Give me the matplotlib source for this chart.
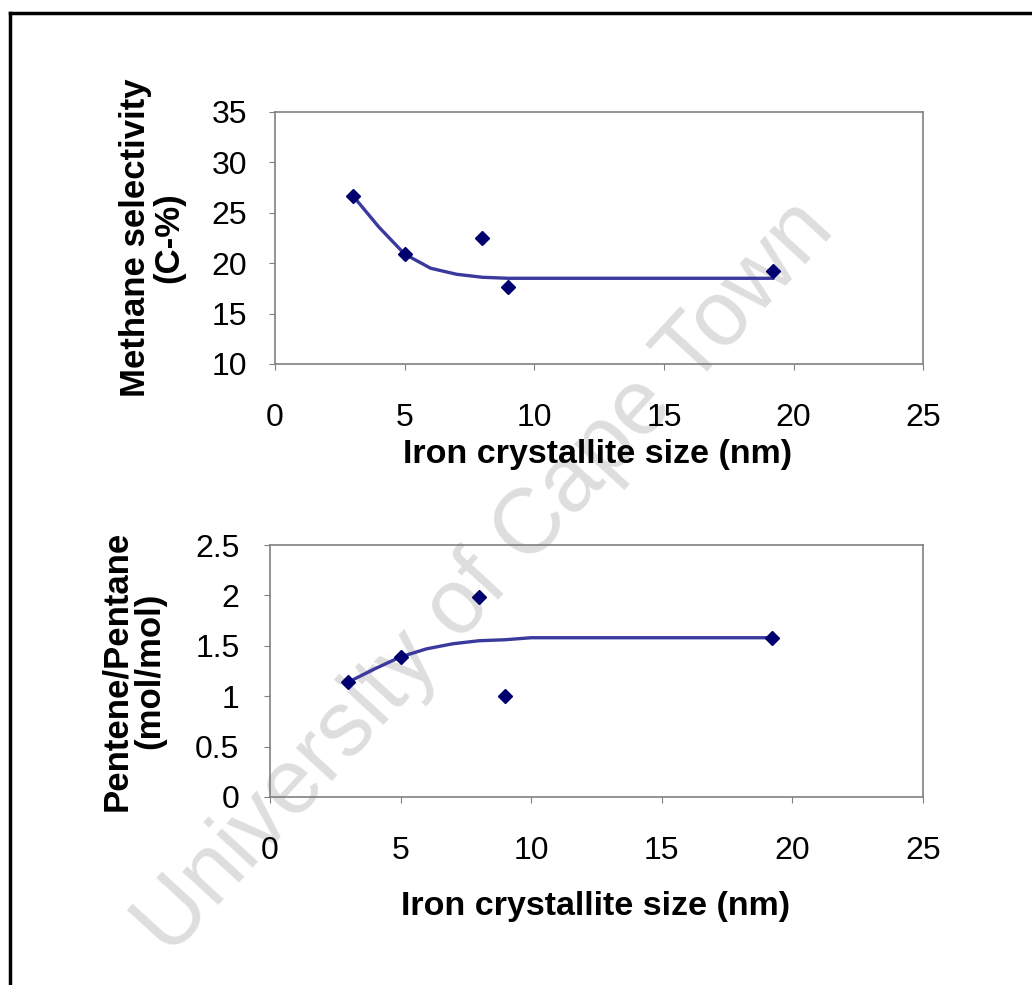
import matplotlib.pyplot as plt
from matplotlib.lines import Line2D

plt.rcParams['font.family'] = ['Liberation Sans', 'DejaVu Sans']

# measured points
size = [3, 5, 8, 9, 19.2]
methane = [26.7, 20.9, 22.5, 17.6, 19.2]
pentene_ratio = [1.14, 1.39, 1.98, 1.0, 1.58]

# fitted curves
fit_x_ch4 = [3, 4, 5, 6, 7, 8, 9, 19.2]
fit_y_ch4 = [26.7, 23.6, 20.9, 19.5, 18.9, 18.6, 18.5, 18.5]
fit_x_c5 = [3, 4, 5, 6, 7, 8, 9, 10, 19.2]
fit_y_c5 = [1.14, 1.27, 1.39, 1.47, 1.52, 1.55, 1.56, 1.58, 1.58]

x_ticks = [0, 5, 10, 15, 20, 25]
ch4_ticks = [10, 15, 20, 25, 30, 35]
c5_ticks = [0, 0.5, 1, 1.5, 2, 2.5]
c5_labels = ['0', '0.5', '1', '1.5', '2', '2.5']

line_col = '#3a3a9e'
mark_col = '#00006e'

fig = plt.figure(figsize=(10.32, 9.85), dpi=100)

ax1 = fig.add_axes([0.2665, 0.6305, 0.628, 0.2558])
ax2 = fig.add_axes([0.2616, 0.1909, 0.6328, 0.2558])

def style(ax, yt, ylabels=None, ypad=16):
    ax.set_facecolor('none')
    for s in ax.spines.values():
        s.set_color('#808080')
        s.set_linewidth(1.2)
    ax.set_xlim(0, 25)
    ax.set_xticks(x_ticks)
    ax.set_yticks(yt)
    if ylabels is not None:
        ax.set_yticklabels(ylabels)
    ax.tick_params(axis='x', length=4, color='#808080', pad=24, labelsize=23)
    ax.tick_params(axis='y', length=4, color='#808080', pad=ypad, labelsize=23)

ax1.plot(fit_x_ch4, fit_y_ch4, color=line_col, lw=2.4, zorder=2)
ax1.plot(size, methane, 'D', color=mark_col, ms=7, zorder=3)
ax1.set_ylim(10, 35)
style(ax1, ch4_ticks)

ax2.plot(fit_x_c5, fit_y_c5, color=line_col, lw=2.4, zorder=2)
ax2.plot(size, pentene_ratio, 'D', color=mark_col, ms=7, zorder=3)
ax2.set_ylim(0, 2.5)
style(ax2, c5_ticks, c5_labels, ypad=18)

# axis titles
fig.text(152 / 1032, 1 - 238 / 985, 'Methane selectivity\n(C-%)', rotation=90,
         ha='center', va='center', fontsize=25, fontweight='bold', linespacing=1.0)
fig.text(598 / 1032, 1 - 455 / 985, 'Iron crystallite size (nm)',
         ha='center', va='center', fontsize=24.5, fontweight='bold')
fig.text(133 / 1032, 1 - 671 / 985, 'Pentene/Pentane\n(mol/mol)', rotation=90,
         ha='center', va='center', fontsize=25, fontweight='bold', linespacing=1.0)
fig.text(596 / 1032, 1 - 907 / 985, 'Iron crystallite size (nm)',
         ha='center', va='center', fontsize=24.5, fontweight='bold')

# watermark
fig.text(485 / 1032, 1 - 578 / 985, 'University of Cape Town', rotation=47.5,
         ha='center', va='center', fontsize=66, color='#dedede', zorder=-1)

# frame: top and left edges
fig.add_artist(Line2D([10 / 1032, 1], [1 - 13 / 985, 1 - 13 / 985], color='black', lw=2.5))
fig.add_artist(Line2D([10 / 1032, 10 / 1032], [0, 1 - 13 / 985], color='black', lw=2.5))

fig.savefig('out.png', dpi=100, facecolor='white')
